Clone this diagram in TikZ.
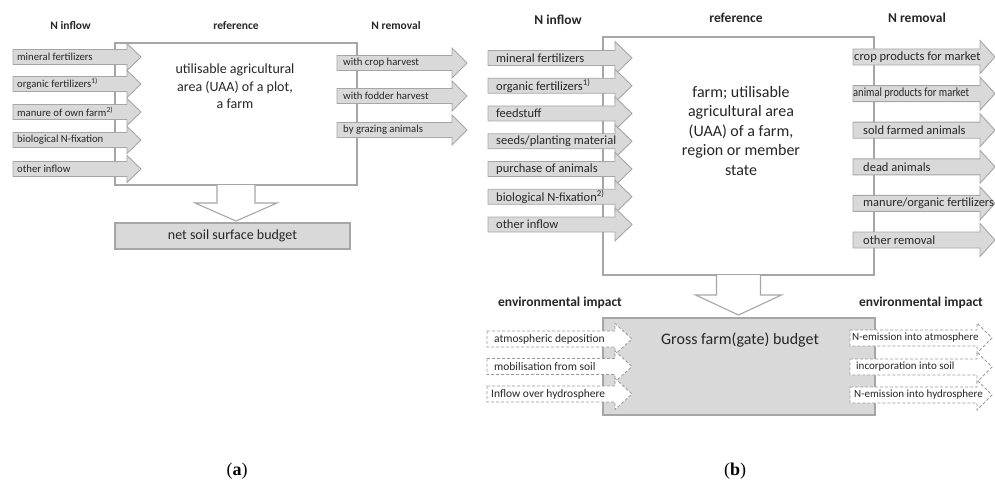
\documentclass[tikz,border=0pt]{standalone}
\usepackage{fontspec}
\setmainfont{Carlito}
\newfontfamily\capfont{Liberation Serif}
\definecolor{ln}{HTML}{A6A6A6}
\definecolor{dl}{HTML}{999999}
\definecolor{fl}{HTML}{D9D9D9}
\definecolor{tx}{HTML}{262626}
\newcommand\fsz[2]{\fontsize{#1}{#2}\selectfont}
\newcommand\farrow[9]{%
  \draw[#2arr] (#3,#6-#7) -- (#4,#6-#7) -- (#4,#6-#8) -- (#5,#6) -- (#4,#6+#8) -- (#4,#6+#7) -- (#3,#6+#7) -- cycle;
  \node[#2txt] (#1) at (#3,#6) {#9};
}
\tikzset{
  solidarr/.style={draw=ln, fill=fl, line width=0.9pt, line join=miter},
  dasharr/.style={draw=dl, fill=white, line width=0.8pt, dash pattern=on 3pt off 2pt},
  aarr/.style={solidarr},
  ararr/.style={solidarr},
  barr/.style={solidarr},
  brarr/.style={solidarr},
  darr/.style={dasharr},
  drarr/.style={dasharr},
  basetxt/.style={anchor=west, inner sep=0pt, text=tx},
  atxt/.style={basetxt, xshift=4pt, font=\fsz{10.7}{12}},
  artxt/.style={basetxt, xshift=6pt, font=\fsz{10.7}{12}},
  btxt/.style={basetxt, xshift=8pt, font=\fsz{12.5}{14}},
  brtxt/.style={basetxt, xshift=10pt, font=\fsz{12.5}{14}},
  dtxt/.style={basetxt, xshift=7pt, font=\fsz{11.5}{13}},
  drtxt/.style={basetxt, xshift=4pt, font=\fsz{11}{13}},
  refbox/.style={draw=ln, line width=1.1pt, fill=white, inner sep=0pt, outer sep=0pt},
  blk/.style={draw=ln, fill=white, line width=1.1pt, line join=miter},
  graybox/.style={draw=ln, fill=fl, line width=1.1pt, inner sep=0pt, outer sep=0pt},
  tta/.style={font=\bfseries\fsz{11.5}{13}, text=tx, inner sep=0pt},
  ttb/.style={font=\bfseries\fsz{13.5}{15}, text=tx, inner sep=0pt},
  captxt/.style={font=\capfont\fsz{18}{20}, anchor=base, inner sep=0pt},
}
\begin{document}
\begin{tikzpicture}[x=1pt, y=-1pt]
\useasboundingbox (0,0) rectangle (995,484);
% ---------------- panel (a) ----------------
\node[refbox, minimum width=242pt, minimum height=142pt] (refa) at (236,114) {};
\node[graybox, minimum width=235pt, minimum height=26pt] (neta) at (232.5,236) {};
\node[text=tx, font=\fsz{14}{14}, inner sep=0pt] (netatext) at (neta.center) {net soil surface budget};
\node[tta] (tinA) at (70.5,26) {N inflow};
\node[tta] (trefA) at (236,26) {reference};
\node[tta] (tremA) at (396,26) {N removal};
\farrow{ia1}{a}{13}{127}{141}{57}{7.5}{13.5}{mineral fertilizers}
\farrow{ia2}{a}{13}{127}{141}{84}{7.5}{13.5}{organic fertilizers\textsuperscript{1)}}
\farrow{ia3}{a}{13}{127}{141}{112}{7.5}{13.5}{manure of own farm\textsuperscript{2)}}
\farrow{ia4}{a}{13}{127}{141}{140}{7.5}{13.5}{biological N-fixation}
\farrow{ia5}{a}{13}{127}{141}{169}{7.5}{13.5}{other inflow}
\farrow{ra1}{ar}{337}{452}{467}{63}{7.5}{15}{with crop harvest}
\farrow{ra2}{ar}{337}{452}{467}{96}{7.5}{15}{with fodder harvest}
\farrow{ra3}{ar}{337}{452}{467}{130}{7.5}{15}{by grazing animals}
\node[text=tx, font=\fsz{14}{17.5}, align=center, inner sep=0pt, anchor=north] (refatext) at (235,64) {utilisable agricultural\\area (UAA) of a plot,\\a farm};
\draw[blk] ([shift={(-19,0)}]refa.south) -- ([shift={(-19,18)}]refa.south) -- ([shift={(-41,18)}]refa.south) -- ([shift={(0,36)}]refa.south) -- ([shift={(41,18)}]refa.south) -- ([shift={(19,18)}]refa.south) -- ([shift={(19,0)}]refa.south);
% ---------------- panel (b) ----------------
\node[refbox, minimum width=271pt, minimum height=238pt] (refb) at (738.5,156) {};
\node[graybox, minimum width=272pt, minimum height=97pt] (gross) at (739,366.5) {};
\node[ttb] (tinB) at (558,20) {N inflow};
\node[ttb] (trefB) at (736,18) {reference};
\node[ttb] (tremB) at (917,18) {N removal};
\node[ttb] (envL) at (560,303) {environmental impact};
\node[ttb] (envR) at (921,303) {environmental impact};
\farrow{ib1}{b}{488}{615}{632}{58}{7.5}{16.5}{mineral fertilizers}
\farrow{ib2}{b}{488}{615}{632}{85.75}{7.5}{16.5}{organic fertilizers\textsuperscript{1)}}
\farrow{ib3}{b}{488}{615}{632}{113.5}{7.5}{16.5}{feedstuff}
\farrow{ib4}{b}{488}{615}{632}{141.25}{7.5}{16.5}{seeds/planting material}
\farrow{ib5}{b}{488}{615}{632}{169}{7.5}{16.5}{purchase of animals}
\farrow{ib6}{b}{488}{615}{632}{196.75}{7.5}{16.5}{biological N-fixation\textsuperscript{2)}}
\farrow{ib7}{b}{488}{615}{632}{224.5}{7.5}{16.5}{other inflow}
\farrow{rb1}{br}{853}{980}{995}{57}{8}{16.5}{\hspace*{-9pt}crop products for market}
\farrow{rb2}{br}{853}{980}{995}{93.6}{8}{16.5}{\hspace*{-10pt}\scalebox{0.84}[1]{animal products for market}}
\farrow{rb3}{br}{853}{980}{995}{130.2}{8}{16.5}{sold farmed animals}
\farrow{rb4}{br}{853}{980}{995}{166.8}{8}{16.5}{dead animals}
\farrow{rb5}{br}{853}{980}{995}{203.4}{8}{16.5}{manure/organic fertilizers}
\farrow{rb6}{br}{853}{980}{995}{240}{8}{16.5}{other removal}
\node[text=tx, font=\fsz{16}{19.5}, align=center, inner sep=0pt] (refbtext) at (741,131) {farm; utilisable\\agricultural area\\(UAA) of a farm,\\region or member\\state};
\draw[blk] ([shift={(-22,0)}]refb.south) -- ([shift={(-22,20)}]refb.south) -- ([shift={(-43,20)}]refb.south) -- ([shift={(0,40)}]refb.south) -- ([shift={(43,20)}]refb.south) -- ([shift={(22,20)}]refb.south) -- ([shift={(22,0)}]refb.south);
\node[text=tx, font=\fsz{16}{18}, inner sep=0pt] (grosstext) at (740,340) {Gross farm(gate) budget};
\farrow{dl1}{d}{487}{615}{632}{339}{8}{15.5}{atmospheric deposition}
\farrow{dl2}{d}{487}{615}{632}{366.5}{8}{15.5}{mobilisation from soil}
\farrow{dl3}{d}{487}{615}{632}{394}{8}{15.5}{\hspace*{-3pt}Inflow over hydrosphere}
\farrow{dr1}{dr}{850}{977}{992}{338}{8}{15}{\hspace*{-2pt}N-emission into atmosphere}
\farrow{dr2}{dr}{850}{977}{992}{367}{8}{15}{\hspace*{2pt}incorporation into soil}
\farrow{dr3}{dr}{850}{977}{992}{395}{8}{15}{N-emission into hydrosphere}
% ---------------- captions ----------------
\node[captxt] (capA) at (237,475) {(\textbf{a})};
\node[captxt] (capB) at (735,475) {(\textbf{b})};
\end{tikzpicture}
\end{document}
